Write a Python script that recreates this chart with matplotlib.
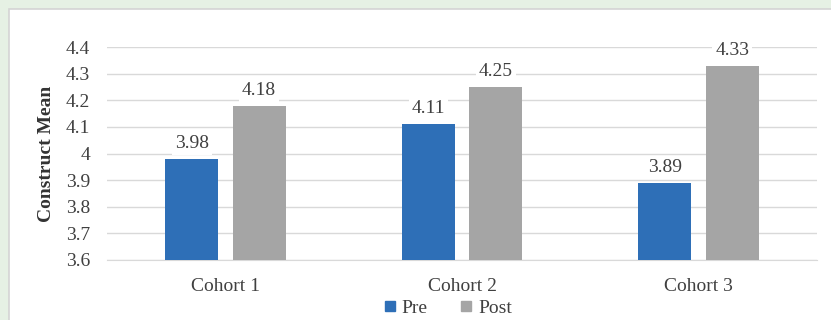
import matplotlib
matplotlib.use("Agg")
import matplotlib.pyplot as plt
import numpy as np
from matplotlib.patches import Rectangle
from matplotlib.lines import Line2D

categories = ["Cohort 1", "Cohort 2", "Cohort 3"]
pre = [3.98, 4.11, 3.89]
post = [4.18, 4.25, 4.33]
series_names = ["Pre", "Post"]
yticks = [3.6, 3.7, 3.8, 3.9, 4.0, 4.1, 4.2, 4.3, 4.4]
ytick_labels = ["3.6", "3.7", "3.8", "3.9", "4", "4.1", "4.2", "4.3", "4.4"]

plt.rcParams['font.family'] = ['Liberation Serif', 'DejaVu Serif']
W, H = 831, 320
fig = plt.figure(figsize=(W / 100, H / 100), dpi=100)
fig.patch.set_facecolor("#E6F1E4")
panel = Rectangle((9 / W, -0.01), 1.01 - 9 / W, 1.01 - 9 / H, transform=fig.transFigure,
                  facecolor="white", edgecolor="#D4D4D4", linewidth=1.2, zorder=-5)
fig.patches.append(panel)

ax = fig.add_axes([107 / W, 1 - 260 / H, (817 - 107) / W, (260 - 47) / H])
ax.set_zorder(1)
ax.set_facecolor("none")
blue = "#2E6FB7"
gray = "#A5A5A5"
txt = "#404040"
fs = 14

x = np.arange(len(categories))
bw = 0.224
off = 0.1426
b1 = ax.bar(x - off, pre, bw, color=blue, zorder=3)
b2 = ax.bar(x + off, post, bw, color=gray, zorder=3)

ax.set_ylim(3.6, 4.4)
ax.set_xlim(-0.5, 2.5)
ax.set_yticks(yticks)
ax.set_yticklabels(ytick_labels)
ax.set_xticks(x)
ax.set_xticklabels(categories)
ax.tick_params(axis="both", length=0, labelsize=fs, colors=txt)
ax.tick_params(axis="y", pad=12)
ax.tick_params(axis="x", pad=13)
ax.grid(axis="y", color="#D9D9D9", linewidth=1.0, zorder=0)
ax.set_axisbelow(True)
for s in ["top", "right", "left"]:
    ax.spines[s].set_visible(False)
ax.spines["bottom"].set_color("#D9D9D9")
ax.set_ylabel("Construct Mean", fontsize=fs, fontweight="bold", color="#333333", labelpad=8)

for bars, vals in [(b1, pre), (b2, post)]:
    for r, v in zip(bars, vals):
        ax.annotate(f"{v:.2f}", (r.get_x() + r.get_width() / 2, v), xytext=(0, 5),
                    textcoords="offset points", ha="center", va="bottom",
                    fontsize=fs, color=txt, zorder=4,
                    bbox=dict(boxstyle="square,pad=0.15", fc="white", ec="none"))

handles = [Line2D([], [], marker="s", linestyle="none", markersize=7, color=c) for c in (blue, gray)]
fig.legend(handles, series_names, loc="center", bbox_to_anchor=(447 / W, 1 - 308 / H),
           ncol=2, frameon=False, fontsize=fs, labelcolor=txt, handletextpad=0.2,
           columnspacing=1.6, handlelength=0.8)

fig.savefig("out.png", dpi=100, facecolor=fig.get_facecolor())
